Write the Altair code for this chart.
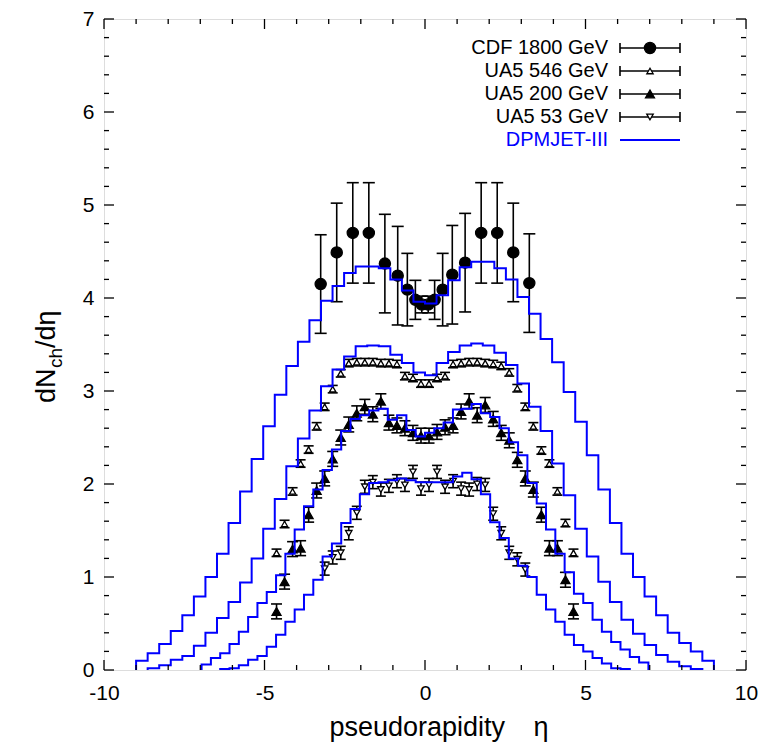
import altair as alt
import pandas as pd

FONT = "Liberation Sans, Arial, Helvetica, sans-serif"

# ---------------- data ----------------
# CDF 1800 GeV
cdf_eta = [-3.25, -2.75, -2.25, -1.75, -1.25, -0.85, -0.55, -0.3, -0.1,
           0.1, 0.3, 0.55, 0.85, 1.25, 1.75, 2.25, 2.75, 3.25]
cdf_val = [4.15, 4.49, 4.70, 4.70, 4.37, 4.24, 4.09, 3.98, 3.93,
           3.93, 3.98, 4.09, 4.25, 4.38, 4.70, 4.70, 4.49, 4.16]
cdf_err = [0.53, 0.53, 0.54, 0.54, 0.53, 0.53, 0.39, 0.21, 0.09,
           0.09, 0.21, 0.39, 0.53, 0.53, 0.54, 0.54, 0.53, 0.53]

# UA5 546 GeV and 200 GeV share the same eta bins
ua5_eta = [-4.625, -4.375, -4.125, -3.875, -3.625, -3.375, -3.125, -2.875, -2.625,
           -2.375, -2.125, -1.875, -1.625, -1.375, -1.125, -0.875, -0.625, -0.375,
           -0.125, 0.125, 0.375, 0.625, 0.875, 1.125, 1.375, 1.625, 1.875, 2.125,
           2.375, 2.625, 2.875, 3.125, 3.375, 3.625, 3.875, 4.125, 4.375, 4.625]
ua546_val = [1.26, 1.57, 1.92, 2.22, 2.37, 2.62, 2.83, 3.02, 3.19, 3.30, 3.31, 3.31,
             3.31, 3.30, 3.30, 3.29, 3.16, 3.14, 3.08, 3.08, 3.14, 3.16, 3.29, 3.30,
             3.31, 3.31, 3.30, 3.29, 3.27, 3.20, 3.03, 2.83, 2.62, 2.36, 2.22, 1.92,
             1.58, 1.26]
ua546_err = 0.04
ua200_val = [0.63, 0.95, 1.30, 1.31, 1.67, 1.93, 2.06, 2.27, 2.50, 2.64, 2.76, 2.83,
             2.75, 2.89, 2.66, 2.63, 2.60, 2.55, 2.52, 2.52, 2.56, 2.61, 2.63, 2.78,
             2.89, 2.74, 2.85, 2.70, 2.55, 2.47, 2.26, 2.06, 1.94, 1.67, 1.31, 1.31,
             0.97, 0.63]
ua200_err = 0.08

# UA5 53 GeV
ua53_eta = [-3.125, -2.875, -2.625, -2.375, -2.125, -1.875, -1.625, -1.375, -1.125,
            -0.875, -0.625, -0.375, -0.125, 0.125, 0.375, 0.625, 0.875, 1.125,
            1.375, 1.625, 1.875, 2.125, 2.375, 2.625, 2.875, 3.125]
ua53_val = [1.09, 1.21, 1.26, 1.47, 1.69, 1.97, 2.02, 1.94, 1.98, 2.03, 1.99, 2.13,
            1.95, 1.99, 2.13, 1.97, 2.03, 1.95, 1.94, 2.00, 1.99, 1.68, 1.47, 1.26,
            1.19, 1.08]
ua53_err = 0.07

# DPMJET-III histograms: first bin edge, bin width, bin contents
dpm1800_start, dpm1800_width = -9.0, 0.36
dpm1800 = [0.10, 0.18, 0.28, 0.42, 0.59, 0.79, 1.00, 1.25, 1.58, 1.92, 2.27, 2.62,
           2.96, 3.27, 3.53, 3.76, 3.97, 4.13, 4.27, 4.34, 4.34, 4.32, 4.20, 4.08,
           3.96, 3.94, 4.03, 4.19, 4.33, 4.39, 4.39, 4.32, 4.20, 4.01, 3.83, 3.56,
           3.31, 2.99, 2.67, 2.31, 1.94, 1.58, 1.25, 1.00, 0.79, 0.59, 0.40, 0.29,
           0.20, 0.10]
dpm546_start, dpm546_width = -8.64, 0.36
dpm546 = [0.02, 0.05, 0.11, 0.15, 0.26, 0.40, 0.56, 0.73, 0.94, 1.20, 1.52, 1.84,
          2.19, 2.49, 2.79, 3.05, 3.23, 3.37, 3.48, 3.49, 3.48, 3.39, 3.30, 3.20,
          3.17, 3.30, 3.42, 3.49, 3.51, 3.49, 3.41, 3.28, 3.08, 2.83, 2.57, 2.22,
          1.88, 1.52, 1.22, 0.95, 0.73, 0.54, 0.39, 0.27, 0.16, 0.09, 0.04, 0.01]
dpm200_start, dpm200_width = -6.96, 0.29
dpm200 = [0.06, 0.13, 0.18, 0.28, 0.41, 0.57, 0.72, 0.84, 1.02, 1.25, 1.51, 1.76,
          1.94, 2.15, 2.37, 2.57, 2.70, 2.74, 2.79, 2.81, 2.69, 2.74, 2.58, 2.51,
          2.55, 2.60, 2.66, 2.80, 2.81, 2.86, 2.76, 2.72, 2.60, 2.45, 2.31, 2.01,
          1.79, 1.51, 1.25, 1.05, 0.82, 0.72, 0.54, 0.41, 0.30, 0.22, 0.14, 0.08]
dpm53_start, dpm53_width = -6.38, 0.29
dpm53 = [0.01, 0.02, 0.05, 0.11, 0.15, 0.25, 0.38, 0.52, 0.65, 0.81, 0.97, 1.22,
         1.36, 1.58, 1.73, 1.89, 2.01, 2.02, 2.04, 2.06, 2.04, 2.02, 2.02, 2.02,
         2.02, 2.08, 2.12, 2.05, 1.89, 1.59, 1.42, 1.20, 1.12, 1.00, 0.81, 0.65,
         0.52, 0.38, 0.27, 0.20, 0.13, 0.07, 0.02, 0.01]

# axis ticks
x_major = [-10, -5, 0, 5, 10]
x_minor = [-9, -8, -7, -6, -4, -3, -2, -1, 1, 2, 3, 4, 6, 7, 8, 9]
y_major = [0, 1, 2, 3, 4, 5, 6, 7]
y_minor = [0.2, 0.4, 0.6, 0.8, 1.2, 1.4, 1.6, 1.8, 2.2, 2.4, 2.6, 2.8, 3.2, 3.4,
           3.6, 3.8, 4.2, 4.4, 4.6, 4.8, 5.2, 5.4, 5.6, 5.8, 6.2, 6.4, 6.6, 6.8]

legend_labels = ["CDF 1800 GeV", "UA5 546 GeV", "UA5 200 GeV", "UA5 53 GeV", "DPMJET-III"]

# ---------------- layout ----------------
W, H = 642, 651
BLUE = "#0000ff"

xs = alt.Scale(domain=[-10, 10], nice=False, zero=False)
ys = alt.Scale(domain=[0, 7], nice=False, zero=False)
X_AX = alt.Axis(values=x_major, ticks=False, tickSize=0, domain=False, grid=False,
                labelFont=FONT, labelFontSize=21, labelPadding=12, labelColor="black",
                labelFlush=False, labelOverlap=False, title=None,
                labelExpr="'' + datum.value")
Y_AX = alt.Axis(values=y_major, ticks=False, tickSize=0, domain=False, grid=False,
                labelFont=FONT, labelFontSize=21, labelPadding=10, labelColor="black",
                labelFlush=False, labelOverlap=False, title=None,
                labelExpr="'' + datum.value")


def X(field):
    return alt.X(field, type="quantitative", scale=xs, axis=X_AX)


def Y(field):
    return alt.Y(field, type="quantitative", scale=ys, axis=Y_AX)


def series_df(eta, val, err):
    errs = err if isinstance(err, list) else [err for _ in eta]
    return pd.DataFrame({"eta": eta, "v": val,
                         "lo": [v - e for v, e in zip(val, errs)],
                         "hi": [v + e for v, e in zip(val, errs)]})


def data_layers(df, shape, size, fill, cap):
    bars = alt.Chart(df).mark_rule(color="black", strokeWidth=1.6).encode(
        x=X("eta"), y=Y("lo"), y2="hi")
    cap_lo = alt.Chart(df).mark_tick(orient="horizontal", color="black", size=cap,
                                     thickness=1.6, opacity=1).encode(x=X("eta"), y=Y("lo"))
    cap_hi = alt.Chart(df).mark_tick(orient="horizontal", color="black", size=cap,
                                     thickness=1.6, opacity=1).encode(x=X("eta"), y=Y("hi"))
    pts = alt.Chart(df).mark_point(shape=shape, size=size, fill=fill, stroke="black",
                                   strokeWidth=1.3, opacity=1, fillOpacity=1).encode(
        x=X("eta"), y=Y("v"))
    return [bars, cap_lo, cap_hi, pts]


cdf_df = series_df(cdf_eta, cdf_val, cdf_err)
u546_df = series_df(ua5_eta, ua546_val, ua546_err)
u200_df = series_df(ua5_eta, ua200_val, ua200_err)
u53_df = series_df(ua53_eta, ua53_val, ua53_err)


def steps(start, width, vals, name):
    rows = [{"eta": start, "v": 0.0, "i": 0, "s": name}]
    for k, v in enumerate(vals):
        rows.append({"eta": round(start + k * width, 4), "v": v, "i": k + 1, "s": name})
    rows.append({"eta": round(start + len(vals) * width, 4), "v": 0.0,
                 "i": len(vals) + 1, "s": name})
    return rows


hist_df = pd.DataFrame(steps(dpm1800_start, dpm1800_width, dpm1800, "1800")
                       + steps(dpm546_start, dpm546_width, dpm546, "546")
                       + steps(dpm200_start, dpm200_width, dpm200, "200")
                       + steps(dpm53_start, dpm53_width, dpm53, "53"))

hist = alt.Chart(hist_df).mark_line(interpolate="step-after", color=BLUE,
                                    strokeWidth=2).encode(
    x=X("eta"), y=Y("v"), detail="s:N", order="i:Q")

layers = []
layers += data_layers(cdf_df, "circle", 125, "black", 12)
layers += data_layers(u546_df, "triangle-up", 40, "white", 10)
layers += data_layers(u200_df, "triangle-up", 80, "black", 11)
layers += data_layers(u53_df, "triangle-down", 42, "white", 10)
layers.append(hist)

# inward ticks on all four sides
xt_major = pd.DataFrame({"t": x_major})
xt_minor = pd.DataFrame({"t": x_minor})
yt_major = pd.DataFrame({"t": y_major})
yt_minor = pd.DataFrame({"t": y_minor})
for df, ln in [(xt_major, 10), (xt_minor, 5)]:
    layers.append(alt.Chart(df).mark_rule(color="black", strokeWidth=1.3).encode(
        x=X("t"), y=alt.value(H), y2=alt.value(H - ln)))
    layers.append(alt.Chart(df).mark_rule(color="black", strokeWidth=1.3).encode(
        x=X("t"), y=alt.value(0), y2=alt.value(ln)))
for df, ln in [(yt_major, 10), (yt_minor, 5)]:
    layers.append(alt.Chart(df).mark_rule(color="black", strokeWidth=1.3).encode(
        y=Y("t"), x=alt.value(0), x2=alt.value(ln)))
    layers.append(alt.Chart(df).mark_rule(color="black", strokeWidth=1.3).encode(
        y=Y("t"), x=alt.value(W), x2=alt.value(W - ln)))

# legend (top right, inside the frame)
one = pd.DataFrame({"a": [0]})
LX_TEXT, LX0, LX1 = 504, 516, 576
row_y = [29, 52, 75, 98, 121]
legend_markers = [("circle", 125, "black"), ("triangle-up", 40, "white"),
                  ("triangle-up", 80, "black"), ("triangle-down", 42, "white")]
for i, lab in enumerate(legend_labels):
    ry = row_y[i]
    col = BLUE if i == 4 else "black"
    layers.append(alt.Chart(one).mark_text(text=lab, align="right", baseline="middle",
                                           font=FONT, fontSize=20, color=col).encode(
        x=alt.value(LX_TEXT), y=alt.value(ry)))
    layers.append(alt.Chart(one).mark_rule(color=col, strokeWidth=1.6 if i < 4 else 2).encode(
        x=alt.value(LX0), x2=alt.value(LX1), y=alt.value(ry)))
    if i < 4:
        for cx in (LX0, LX1):
            layers.append(alt.Chart(one).mark_rule(color="black", strokeWidth=1.6).encode(
                x=alt.value(cx), y=alt.value(ry - 5), y2=alt.value(ry + 5)))
        shp, sz, fl = legend_markers[i]
        layers.append(alt.Chart(one).mark_point(shape=shp, size=sz, fill=fl, stroke="black",
                                                strokeWidth=1.3, opacity=1,
                                                fillOpacity=1).encode(
            x=alt.value((LX0 + LX1) / 2), y=alt.value(ry)))

# axis titles
layers.append(alt.Chart(one).mark_text(text="pseudorapidity", align="right",
                                       baseline="middle", font=FONT, fontSize=27,
                                       color="black").encode(
    x=alt.value(401), y=alt.value(709)))
layers.append(alt.Chart(one).mark_text(text="η", align="center", baseline="middle",
                                       font=FONT, fontSize=27, color="black").encode(
    x=alt.value(437), y=alt.value(709)))
layers.append(alt.Chart(one).mark_text(text="dN", align="left", baseline="middle",
                                       angle=270, font=FONT, fontSize=27,
                                       color="black").encode(
    x=alt.value(-57), y=alt.value(384)))
layers.append(alt.Chart(one).mark_text(text="ch", align="left", baseline="middle",
                                       angle=270, font=FONT, fontSize=19,
                                       color="black").encode(
    x=alt.value(-48), y=alt.value(349)))
layers.append(alt.Chart(one).mark_text(text="/dη", align="left", baseline="middle",
                                       angle=270, font=FONT, fontSize=27,
                                       color="black").encode(
    x=alt.value(-57), y=alt.value(329)))

chart = alt.layer(*layers).properties(
    width=W, height=H,
    autosize=alt.AutoSizeParams(type="none"),
    padding={"left": 96, "top": 11, "right": 18, "bottom": 73},
).configure_view(stroke="black", strokeWidth=1.5).configure(background="white")

chart.save("out.html", embed_options={"renderer": "svg", "actions": False})
